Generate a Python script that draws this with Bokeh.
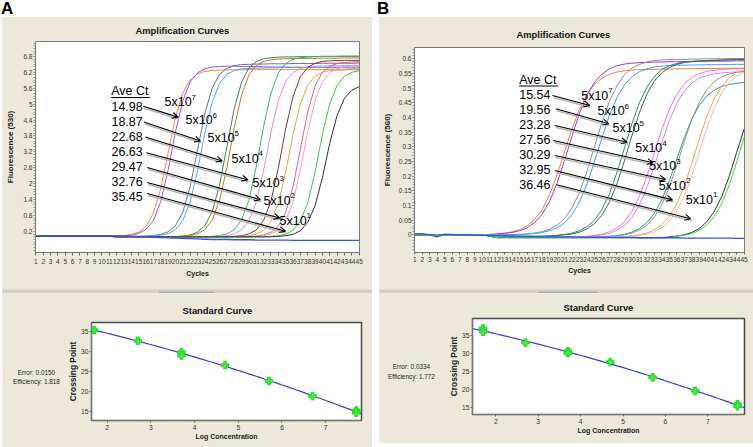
import numpy as np
from bokeh.plotting import figure
from bokeh.models import Range1d, FixedTicker, Arrow, OpenHead, ColumnDataSource, Spacer, Div
from bokeh.layouts import row, column
from bokeh.embed import file_html
from bokeh.resources import INLINE
from bokeh.core.properties import value

# ------------------------------------------------------------------ data
cycles = list(range(1, 46))

# Panel A amplification curves (fluorescence 530), two replicates per dilution
a_7x1 = [0.02, 0.02, 0.02, 0.02, 0.02, 0.02, 0.02, 0.02, 0.02, 0.02, 0.02,
         0.03, 0.05, 0.09, 0.18, 0.40, 0.90, 1.82, 3.16, 4.50, 5.42, 5.92, 6.14, 6.23, 6.27,
         6.28, 6.29, 6.29, 6.29, 6.30, 6.30, 6.30, 6.30, 6.30, 6.30,
         6.30, 6.30, 6.30, 6.30, 6.30, 6.30, 6.30, 6.30, 6.30, 6.30]
a_7x2 = [0.02, 0.02, 0.02, 0.02, 0.02, 0.02, 0.02, 0.02, 0.02, 0.02, 0.02, 0.02,
         0.04, 0.06, 0.13, 0.28, 0.62, 1.33, 2.51, 3.95, 5.13, 5.84, 6.18, 6.33, 6.40, 6.42,
         6.43, 6.43, 6.42, 6.42, 6.41, 6.41, 6.40, 6.40, 6.40, 6.39,
         6.39, 6.38, 6.38, 6.38, 6.37, 6.37, 6.37, 6.36, 6.36]
a_6x1 = [0.02, 0.02, 0.02, 0.02, 0.02, 0.02, 0.02, 0.02, 0.02, 0.02, 0.02, 0.02, 0.02, 0.02, 0.02,
         0.03, 0.05, 0.09, 0.19, 0.42, 0.93, 1.89, 3.27, 4.65, 5.61, 6.12, 6.35, 6.45, 6.49,
         6.50, 6.51, 6.51, 6.52, 6.52, 6.52, 6.53, 6.53, 6.53, 6.53, 6.54, 6.54, 6.54, 6.54, 6.54, 6.55]
a_6x2 = [0.02, 0.02, 0.02, 0.02, 0.02, 0.02, 0.02, 0.02, 0.02, 0.02, 0.02, 0.02, 0.02, 0.02, 0.02, 0.02,
         0.04, 0.06, 0.12, 0.27, 0.61, 1.31, 2.48, 3.91, 5.07, 5.78, 6.12, 6.27, 6.33,
         6.35, 6.36, 6.36, 6.37, 6.37, 6.38, 6.38, 6.38, 6.39, 6.39, 6.39, 6.40, 6.40, 6.40, 6.40, 6.40]
a_5x1 = [0.02, 0.02, 0.02, 0.02, 0.02, 0.02, 0.02, 0.02, 0.02, 0.02, 0.02,
         0.0, 0.0, 0.0, 0.0, 0.0, 0.0, 0.0, 0.0,
         0.01, 0.03, 0.07, 0.17, 0.42, 0.95, 1.95, 3.39, 4.83, 5.83, 6.37, 6.60, 6.71, 6.75,
         6.77, 6.78, 6.78, 6.79, 6.79, 6.79, 6.80, 6.80, 6.80, 6.80, 6.80, 6.80]
a_5x2 = [0.02, 0.02, 0.02, 0.02, 0.02, 0.02, 0.02, 0.02, 0.02, 0.02, 0.02,
         0.0, 0.0, 0.0, 0.0, 0.0, 0.0, 0.0, 0.0, 0.0,
         0.02, 0.05, 0.11, 0.27, 0.63, 1.37, 2.61, 4.11, 5.35, 6.10, 6.45, 6.61, 6.67, 6.70,
         6.71, 6.72, 6.72, 6.72, 6.73, 6.73, 6.73, 6.73, 6.74, 6.74, 6.74]
a_4x1 = [0.02, 0.02, 0.02, 0.02, 0.02, 0.02, 0.02, 0.02, 0.02, 0.02, 0.02,
         0.0, 0.0, 0.0, 0.0, 0.0, 0.0, 0.0, 0.0, 0.0, 0.0, 0.0, 0.0, 0.0,
         0.02, 0.05, 0.11, 0.27, 0.64, 1.38, 2.64, 4.16, 5.41, 6.17, 6.53, 6.69, 6.75, 6.78,
         6.79, 6.80, 6.80, 6.80, 6.81, 6.81, 6.81]
a_4x2 = [0.02, 0.02, 0.02, 0.02, 0.02, 0.02, 0.02, 0.02, 0.02, 0.02, 0.02,
         0.0, 0.0, 0.0, 0.0, 0.0, 0.0, 0.0, 0.0, 0.0, 0.0, 0.0, 0.0, 0.0, 0.0,
         0.02, 0.04, 0.11, 0.26, 0.60, 1.31, 2.50, 3.95, 5.13, 5.85, 6.19, 6.34, 6.41, 6.43,
         6.44, 6.45, 6.45, 6.45, 6.46, 6.46]
a_3x1 = [0.02, 0.02, 0.02, 0.02, 0.02, 0.02, 0.02, 0.02, 0.02, 0.02, 0.02,
         0.0, 0.0, 0.0, 0.0, 0.0, 0.0, 0.0, 0.0, 0.0, 0.0, 0.0, 0.0, 0.0, 0.0, 0.0, 0.0,
         0.02, 0.04, 0.11, 0.26, 0.62, 1.35, 2.58, 4.07, 5.29, 6.03, 6.38, 6.54, 6.61, 6.63,
         6.64, 6.65, 6.65, 6.65]
a_3x2 = [0.02, 0.02, 0.02, 0.02, 0.02, 0.02, 0.02, 0.02, 0.02, 0.02, 0.02,
         0.0, 0.0, 0.0, 0.0, 0.0, 0.0, 0.0, 0.0, 0.0, 0.0, 0.0, 0.0, 0.0, 0.0, 0.0, 0.0, 0.0,
         0.02, 0.04, 0.10, 0.25, 0.59, 1.28, 2.44, 3.86, 5.01, 5.71, 6.05, 6.20, 6.26, 6.28,
         6.29, 6.30, 6.30]
a_2x1 = [0.02, 0.02, 0.02, 0.02, 0.02, 0.02, 0.02, 0.02, 0.02, 0.02, 0.02,
         0.0, 0.0, 0.0, 0.0, 0.0, 0.0, 0.0, 0.0, 0.0, 0.0, 0.0, 0.0, 0.0, 0.0, 0.0, 0.0, 0.0, 0.0,
         0.01, 0.03, 0.07, 0.17, 0.40, 0.92, 1.89, 3.30, 4.71, 5.68, 6.20, 6.43, 6.53, 6.57, 6.59, 6.60]
a_2x2 = [0.02, 0.02, 0.02, 0.02, 0.02, 0.02, 0.02, 0.02, 0.02, 0.02, 0.02,
         0.0, 0.0, 0.0, 0.0, 0.0, 0.0, 0.0, 0.0, 0.0, 0.0, 0.0, 0.0, 0.0, 0.0, 0.0, 0.0, 0.0, 0.0, 0.0,
         0.02, 0.04, 0.11, 0.26, 0.60, 1.31, 2.50, 3.95, 5.13, 5.85, 6.19, 6.34, 6.41, 6.43, 6.45]
a_1x1 = [0.02, 0.02, 0.02, 0.02, 0.02, 0.02, 0.02, 0.02, 0.02, 0.02, 0.02,
         0.0, 0.0, 0.0, 0.0, 0.0, 0.0, 0.0, 0.0, 0.0, 0.0, 0.0, 0.0, 0.0, 0.0, 0.0, 0.0, 0.0, 0.0, 0.0,
         0.0, 0.0,
         0.02, 0.04, 0.10, 0.25, 0.59, 1.28, 2.44, 3.86, 5.01, 5.71, 6.05, 6.20, 6.26]
a_1x2 = [0.02, 0.02, 0.02, 0.02, 0.02, 0.02, 0.02, 0.02, 0.02, 0.02, 0.02,
         0.0, 0.0, 0.0, 0.0, 0.0, 0.0, 0.0, 0.0, 0.0, 0.0, 0.0, 0.0, 0.0, 0.0, 0.0, 0.0, 0.0, 0.0, 0.0,
         0.0, 0.0, 0.0,
         0.02, 0.04, 0.09, 0.23, 0.54, 1.17, 2.23, 3.52, 4.58, 5.22, 5.52, 5.66]
a_ntc = [0.04, 0.04, 0.04, 0.04, 0.04, 0.04, 0.04, 0.04, 0.04, 0.04, 0.04, 0.04,
         0.03, 0.02, 0.01, 0.0, -0.02, -0.03, -0.04, -0.05, -0.06, -0.07, -0.08, -0.09, -0.10,
         -0.10, -0.10, -0.11, -0.11, -0.11, -0.12, -0.12, -0.12, -0.12, -0.12,
         -0.13, -0.13, -0.13, -0.13, -0.13, -0.13, -0.13, -0.13, -0.13, -0.13]

# Panel B amplification curves (fluorescence 560)
b_7x1 = [0.0, 0.0, 0.0, 0.0, 0.0, 0.0, 0.0, 0.0, 0.0, 0.0,
         0.002, 0.003, 0.006, 0.010, 0.018, 0.031, 0.052, 0.086, 0.137, 0.204,
         0.283, 0.361, 0.428, 0.479, 0.513, 0.534, 0.547, 0.555, 0.559, 0.562,
         0.563, 0.564, 0.564, 0.565, 0.565, 0.566, 0.566, 0.566, 0.567, 0.567,
         0.567, 0.568, 0.568, 0.568, 0.568]
b_7x2 = [0.0, 0.0, 0.0, 0.0, 0.0, 0.0, 0.0, 0.0, 0.0, 0.0, 0.0,
         0.003, 0.005, 0.008, 0.014, 0.024, 0.042, 0.070, 0.114, 0.176, 0.253,
         0.337, 0.414, 0.476, 0.520, 0.548, 0.566, 0.576, 0.582, 0.585,
         0.587, 0.588, 0.589, 0.589, 0.590, 0.590, 0.591, 0.591, 0.591, 0.592,
         0.592, 0.592, 0.592, 0.593, 0.593]
b_6x1 = [0.0, 0.0, 0.0, 0.0, 0.0, 0.0, 0.0, 0.0, 0.0, 0.0, 0.0, 0.0, 0.0, 0.0,
         0.002, 0.003, 0.006, 0.011, 0.019, 0.033, 0.055, 0.092, 0.145, 0.217,
         0.300, 0.383, 0.455, 0.508, 0.545, 0.568, 0.581, 0.589, 0.594, 0.596,
         0.597, 0.598, 0.598, 0.599, 0.599, 0.600, 0.600, 0.600, 0.601, 0.601, 0.601]
b_6x2 = [0.0, 0.0, 0.0, 0.0, 0.0, 0.0, 0.0, 0.0, 0.0, 0.0, 0.0, 0.0, 0.0, 0.0, 0.0,
         0.003, 0.004, 0.008, 0.014, 0.024, 0.041, 0.069, 0.112, 0.173, 0.249,
         0.331, 0.407, 0.468, 0.511, 0.539, 0.556, 0.566, 0.572, 0.575,
         0.577, 0.578, 0.578, 0.579, 0.579, 0.580, 0.580, 0.580, 0.580, 0.581, 0.581]
b_5x1 = [0.0, 0.0, 0.0, 0.0, 0.0, 0.0, 0.0, 0.0, 0.0, 0.0, -0.003,
         -0.005, -0.005, -0.005, -0.005, -0.005, -0.005, -0.005,
         -0.003, -0.002, 0.001, 0.006, 0.014, 0.028, 0.050, 0.087, 0.140, 0.212,
         0.295, 0.378, 0.450, 0.503, 0.540, 0.563, 0.576, 0.584, 0.589, 0.591,
         0.593, 0.594, 0.595, 0.596, 0.597, 0.598, 0.598]
b_5x2 = [0.0, 0.0, 0.0, 0.0, 0.0, 0.0, 0.0, 0.0, 0.0, 0.0, -0.003,
         -0.005, -0.005, -0.005, -0.005, -0.005, -0.005, -0.005, -0.005,
         -0.002, 0.000, 0.003, 0.009, 0.020, 0.038, 0.067, 0.111, 0.174, 0.252,
         0.338, 0.416, 0.479, 0.524, 0.552, 0.570, 0.581, 0.587, 0.590,
         0.592, 0.593, 0.594, 0.595, 0.596, 0.597, 0.597]
b_4x1 = [0.0, 0.0, 0.0, 0.0, 0.0, 0.0, 0.0, 0.0, 0.0, 0.0, -0.004,
         -0.008, -0.008, -0.008, -0.008, -0.008, -0.008, -0.008, -0.008, -0.008, -0.008, -0.008,
         -0.006, -0.005, -0.002, 0.002, 0.010, 0.023, 0.045, 0.080, 0.131, 0.200,
         0.280, 0.359, 0.428, 0.479, 0.514, 0.536, 0.549, 0.557, 0.561, 0.564,
         0.565, 0.566, 0.567]
b_4x2 = [0.0, 0.0, 0.0, 0.0, 0.0, 0.0, 0.0, 0.0, 0.0, 0.0, -0.004,
         -0.008, -0.008, -0.008, -0.008, -0.008, -0.008, -0.008, -0.008, -0.008, -0.008, -0.008, -0.008,
         -0.006, -0.004, 0.000, 0.005, 0.015, 0.032, 0.059, 0.101, 0.160, 0.234,
         0.315, 0.389, 0.448, 0.490, 0.517, 0.534, 0.543, 0.549, 0.552, 0.554,
         0.555, 0.556]
b_3x1 = [0.0, 0.0, 0.0, 0.0, 0.0, 0.0, 0.0, 0.0, 0.0, 0.0, -0.004,
         -0.008, -0.008, -0.008, -0.008, -0.008, -0.008, -0.008, -0.008, -0.008, -0.008, -0.008,
         -0.008, -0.008, -0.008,
         -0.006, -0.005, -0.003, 0.002, 0.009, 0.021, 0.041, 0.073, 0.120, 0.183,
         0.257, 0.331, 0.394, 0.441, 0.473, 0.493, 0.506, 0.512, 0.517, 0.519]
b_3x2 = [0.0, 0.0, 0.0, 0.0, 0.0, 0.0, 0.0, 0.0, 0.0, 0.0, -0.004,
         -0.008, -0.008, -0.008, -0.008, -0.008, -0.008, -0.008, -0.008, -0.008, -0.008, -0.008,
         -0.008, -0.008, -0.008, -0.008,
         -0.005, -0.004, 0.000, 0.006, 0.016, 0.032, 0.060, 0.102, 0.162, 0.237,
         0.317, 0.392, 0.452, 0.494, 0.522, 0.539, 0.548, 0.554, 0.557]
b_2x1 = [0.0, 0.0, 0.0, 0.0, 0.0, 0.0, 0.0, 0.0, 0.0, 0.0, -0.004,
         -0.008, -0.008, -0.008, -0.008, -0.008, -0.008, -0.008, -0.008, -0.008, -0.008, -0.008,
         -0.008, -0.008, -0.008, -0.008, -0.008, -0.008,
         -0.005, -0.003, 0.000, 0.006, 0.016, 0.034, 0.062, 0.105, 0.166, 0.243,
         0.326, 0.403, 0.464, 0.507, 0.535, 0.553, 0.563]
b_2x2 = [0.0, 0.0, 0.0, 0.0, 0.0, 0.0, 0.0, 0.0, 0.0, 0.0, -0.004,
         -0.008, -0.008, -0.008, -0.008, -0.008, -0.008, -0.008, -0.008, -0.008, -0.008, -0.008,
         -0.008, -0.008, -0.008, -0.008, -0.008, -0.008, -0.008,
         -0.005, -0.002, 0.002, 0.010, 0.023, 0.046, 0.081, 0.132, 0.201, 0.282,
         0.363, 0.432, 0.483, 0.519, 0.541, 0.554]
b_1x1 = [0.0, 0.0, 0.0, 0.0, 0.0, 0.0, 0.0, 0.0, 0.0, 0.0, -0.005,
         -0.010, -0.010, -0.010, -0.010, -0.010, -0.010, -0.010, -0.010, -0.010, -0.010,
         -0.010, -0.010, -0.010, -0.010, -0.010, -0.010, -0.010, -0.010, -0.010, -0.010,
         -0.010, -0.010, -0.010,
         -0.007, -0.004, 0.000, 0.008, 0.021, 0.044, 0.079, 0.130, 0.199, 0.280, 0.361]
b_1x2 = [0.0, 0.0, 0.0, 0.0, 0.0, 0.0, 0.0, 0.0, 0.0, 0.0, -0.005,
         -0.010, -0.010, -0.010, -0.010, -0.010, -0.010, -0.010, -0.010, -0.010, -0.010,
         -0.010, -0.010, -0.010, -0.010, -0.010, -0.010, -0.010, -0.010, -0.010, -0.010,
         -0.010, -0.010, -0.010, -0.010,
         -0.005, -0.002, 0.004, 0.015, 0.033, 0.062, 0.106, 0.169, 0.247, 0.333]
b_ntc = [0.003, 0.004, 0.0, -0.007, 0.002, 0.001, 0.0, 0.0, -0.001, -0.002,
         -0.003, -0.003, -0.004, -0.004, -0.005, -0.005, -0.006, -0.006, -0.006, -0.007,
         -0.007, -0.007, -0.008, -0.008, -0.008, -0.008, -0.009, -0.009, -0.009, -0.009,
         -0.010, -0.010, -0.010, -0.010, -0.010, -0.010, -0.011, -0.011, -0.011, -0.011,
         -0.011, -0.011, -0.011, -0.012, -0.012]

# axis ticks / labels
a_yticks = [0.2, 0.8, 1.4, 2.0, 2.6, 3.2, 3.8, 4.4, 5.0, 5.6, 6.2, 6.8]
a_ytick_labels = ["0.2", "0.8", "1.4", "2", "2.6", "3.2", "3.8", "4.4", "5", "5.6", "6.2", "6.8"]
b_yticks = [0.0, 0.05, 0.1, 0.15, 0.2, 0.25, 0.3, 0.35, 0.4, 0.45, 0.5, 0.55, 0.6]
b_ytick_labels = ["0", "0.05", "0.1", "0.15", "0.2", "0.25", "0.3", "0.35", "0.4", "0.45",
                  "0.5", "0.55", "0.6"]
std_xticks = [2, 3, 4, 5, 6, 7]
std_yticks = [15, 20, 25, 30, 35]

# annotation texts
panel_letters = ["A", "B"]
a_ct_labels = ["14.98", "18.87", "22.68", "26.63", "29.47", "32.76", "35.45"]
b_ct_labels = ["15.54", "19.56", "23.28", "27.56", "30.29", "32.95", "36.46"]
dil_exponents = ["7", "6", "5", "4", "3", "2", "1"]

# standard curves
log_conc = [1.7, 2.7, 3.7, 4.7, 5.7, 6.7, 7.7]
a_ct_avg = [35.45, 32.76, 29.47, 26.63, 22.68, 18.87, 14.98]
b_ct_avg = [36.46, 32.95, 30.29, 27.56, 23.28, 19.56, 15.54]
a_rep_x = [1.7, 2.7, 3.7, 3.7, 4.7, 5.7, 6.7, 7.7, 7.7]
a_rep_y = [35.45, 32.76, 29.9, 29.05, 26.63, 22.68, 18.87, 15.25, 14.7]
b_rep_x = [1.7, 1.7, 2.7, 3.7, 3.7, 4.7, 5.7, 6.7, 7.7, 7.7]
b_rep_y = [36.9, 36.0, 32.95, 30.55, 30.05, 27.56, 23.28, 19.56, 15.85, 15.25]
a_stats = ["Error: 0.0150", "Efficiency: 1.818"]
b_stats = ["Error: 0.0334", "Efficiency: 1.772"]

for _n, _v in list(globals().items()):
    if (_n[:2] in ("a_", "b_") and _n[2].isdigit()) or _n in ("a_ntc", "b_ntc"):
        assert len(_v) == 45, (_n, len(_v))

# ------------------------------------------------------------------ layout / annotation positions
a_arrow_x0 = [15.61, 15.69, 15.92, 16.02, 16.15, 16.15, 16.15]
a_arrow_y0 = [4.92, 4.33, 3.76, 3.17, 2.61, 2.05, 1.63]
a_arrow_x1 = [20.37, 23.41, 26.36, 29.85, 31.57, 34.20, 34.98]
a_arrow_y1 = [4.51, 3.61, 2.86, 2.15, 1.40, 0.71, 0.21]
a_num_y = [4.92, 4.36, 3.77, 3.21, 2.65, 2.08, 1.52]
a_lab_x = [18.51, 21.37, 24.36, 27.63, 30.49, 31.98, 34.16]
a_lab_y = [5.07, 4.40, 3.72, 2.94, 2.01, 1.36, 0.61]

b_arrow_x0 = [19.39, 19.83, 19.70, 19.49, 19.70, 19.70, 19.93]
b_arrow_y0 = [0.4748, 0.4295, 0.3726, 0.3214, 0.2703, 0.2191, 0.1704]
b_arrow_x1 = [24.38, 26.92, 29.37, 32.85, 34.49, 35.43, 37.87]
b_arrow_y1 = [0.4408, 0.3784, 0.3156, 0.2454, 0.1885, 0.1192, 0.0545]
b_num_y = [0.4772, 0.4261, 0.3760, 0.3238, 0.2727, 0.2215, 0.1714]
b_lab_x = [23.23, 25.41, 27.41, 30.44, 32.31, 33.60, 37.21]
b_lab_y = [0.4748, 0.4213, 0.3634, 0.2952, 0.2338, 0.1680, 0.1203]

BEIGE = "#ece9da"
BAND = "#d4d0c8"
FONT = "Liberation Sans"

a_colors = ["#f28c28", "#9b4dff", "#6e6e8e", "#4da3ff", "#2e8b57", "#c8742c", "#3cb360",
            "#d98be8", "#8b3030", "#f0a03c", "#e8607a", "#f29ad2", "#2ecc40", "#303030"]
b_colors = ["#f28020", "#9933ff", "#8a8aa8", "#3d9bff", "#2e8b57", "#3f5f6f", "#ff6ad5",
            "#c38ef0", "#2f9a88", "#8a9a8a", "#f0a050", "#f5b9a4", "#303030", "#33dd33"]
NTC_COLOR = "#3050ff"


def no_align(p):
    try:
        p.frame_align = False
    except Exception:
        pass
    return p


def style_axis(ax, tick_size, label_size, tick_out, lab_standoff, axlab_standoff):
    ax.major_label_text_font = FONT
    ax.major_label_text_font_size = tick_size
    ax.major_label_text_color = "#333333"
    ax.axis_label_text_font = FONT
    ax.axis_label_text_font_size = label_size
    ax.axis_label_text_font_style = "bold"
    ax.axis_label_text_color = "#222222"
    ax.major_tick_out = tick_out
    ax.major_tick_in = 0
    ax.minor_tick_in = 0
    ax.minor_tick_out = 2
    ax.major_label_standoff = int(lab_standoff)
    ax.axis_label_standoff = int(axlab_standoff)
    ax.axis_line_color = "#777777"
    ax.major_tick_line_color = "#666666"
    ax.minor_tick_line_color = "#999999"


def chart_fig(w, h, xr, yr, lb, rb, tb, bb, title, t_off, t_standoff, t_size):
    p = figure(width=w, height=h, x_range=xr, y_range=yr, output_backend="svg",
               toolbar_location=None, min_border_left=lb, min_border_right=rb,
               min_border_top=tb, min_border_bottom=bb, title=title,
               border_fill_color=BEIGE, background_fill_color="white")
    no_align(p)
    p.xgrid.visible = False
    p.ygrid.visible = False
    p.title.align = "left"
    p.title.offset = t_off
    p.title.standoff = t_standoff
    p.title.text_font = FONT
    p.title.text_font_size = t_size
    p.title.text_font_style = "bold"
    p.title.text_color = "#111111"
    return p


def pix_fig(w, h, bg):
    f = figure(width=w, height=h, x_range=Range1d(0, w), y_range=Range1d(h, 0),
               x_axis_location=None, y_axis_location=None, min_border=0,
               title_location=None, toolbar_location=None, output_backend="svg",
               background_fill_color=bg, border_fill_color=bg, outline_line_color=None)
    no_align(f)
    f.grid.visible = False
    return f


def amp_chart(w, yr, lb, rb, tb, t_off, t_standoff, curves, colors, ntc, yticks, ylabels,
              minor, ylab, num_x, num_y, ct_labels, ax0, ay0, ax1, ay1, lab_x, lab_y,
              avex, avey, ave_ux1, ave_uy, shx, shy, supdx, supdy, xlab_standoff, ylab_standoff,
              ytick_out, xtick_out, xlab_off):
    p = chart_fig(w, 268, Range1d(0.95, 45.05), yr, lb, rb, tb, 33,
                  "Amplification Curves", t_off, t_standoff, "9.4px")
    p.outline_line_color = "#7a7a7a"
    p.xaxis.ticker = FixedTicker(ticks=cycles)
    p.yaxis.ticker = FixedTicker(ticks=yticks, minor_ticks=minor)
    p.yaxis.major_label_overrides = dict(zip(yticks, ylabels))
    p.xaxis.axis_label = "Cycles"
    p.yaxis.axis_label = ylab
    style_axis(p.xaxis[0], "6.5px", "7px", xtick_out, xlab_off, xlab_standoff)
    style_axis(p.yaxis[0], "6.5px", "8px", ytick_out, 1, ylab_standoff)
    for vals, col in zip(curves, colors):
        p.line(cycles, vals, line_color=col, line_width=1)
    p.line(cycles, ntc, line_color=NTC_COLOR, line_width=1.3)

    # arrow shadows, arrows, labels
    p.segment(x0=list(np.array(ax0) + shx), y0=list(np.array(ay0) + shy),
              x1=list(np.array(ax1) + shx), y1=list(np.array(ay1) + shy),
              line_color="#b8b8b8", line_width=1.6)
    src = ColumnDataSource(dict(x0=ax0, y0=ay0, x1=ax1, y1=ay1))
    p.add_layout(Arrow(end=OpenHead(size=6, line_width=1.1, line_color="black"),
                       source=src, x_start="x0", y_start="y0", x_end="x1", y_end="y1",
                       line_width=1.1, line_color="black"))
    tf = dict(text_font=value(FONT), text_color="black", text_baseline="middle",
              text_align="left")
    p.text(x=[avex], y=[avey], text=["Ave Ct"], text_font_size="12.5px", **tf)
    p.segment(x0=[avex], y0=[ave_uy], x1=[ave_ux1], y1=[ave_uy], line_color="black",
              line_width=1)
    p.text(x=[num_x] * len(num_y), y=num_y, text=ct_labels, text_font_size="12.5px", **tf)
    p.text(x=lab_x, y=lab_y, text=["5x10"] * len(lab_x), text_font_size="12.5px", **tf)
    p.text(x=list(np.array(lab_x) + supdx), y=list(np.array(lab_y) + supdy),
           text=dil_exponents, text_font_size="8px", **tf)
    return p


a_curves = [a_7x1, a_7x2, a_6x1, a_6x2, a_5x1, a_5x2, a_4x1, a_4x2,
            a_3x1, a_3x2, a_2x1, a_2x2, a_1x1, a_1x2]
b_curves = [b_7x1, b_7x2, b_6x1, b_6x2, b_5x1, b_5x2, b_4x1, b_4x2,
            b_3x1, b_3x2, b_2x1, b_2x2, b_1x1, b_1x2]

a_minor = [round(v, 2) for v in np.arange(-0.5, 7.35, 0.1)]
b_minor = [round(v, 3) for v in np.arange(-0.05, 0.64, 0.01)]

pa = amp_chart(370, Range1d(-0.59, 7.36), 33, 13, 23, 100, 11, a_curves, a_colors, a_ntc,
               a_yticks, a_ytick_labels, a_minor, "Fluorescence (530)", 11.29, a_num_y,
               a_ct_labels, a_arrow_x0, a_arrow_y0, a_arrow_x1, a_arrow_y1, a_lab_x, a_lab_y,
               11.25, 5.485, 16.51, 5.25, 0.136, -0.075, 3.67, 0.19, 3, 5, 2, 3, 3)
pb = amp_chart(374, Range1d(-0.0603, 0.6385), 35, 9, 30, 102, 16, b_curves, b_colors, b_ntc,
               b_yticks, b_ytick_labels, b_minor, "Fluorescence (560)", 14.94, b_num_y,
               b_ct_labels, b_arrow_x0, b_arrow_y0, b_arrow_x1, b_arrow_y1, b_lab_x, b_lab_y,
               14.94, 0.5284, 20.15, 0.5072, 0.134, -0.0068, 3.62, 0.017, 2, 4, 2, 2, 2)


def std_chart(w, h, xr, yr, lb, rb, tb, bb, t_off, t_standoff, avg, rx, ry):
    p = chart_fig(w, h, xr, yr, lb, rb, tb, bb, "Standard Curve", t_off, t_standoff, "9.4px")
    p.outline_line_color = "#4a4a4a"
    p.outline_line_width = 1.5
    p.xaxis.ticker = FixedTicker(ticks=std_xticks)
    p.yaxis.ticker = FixedTicker(ticks=std_yticks)
    p.xaxis.axis_label = "Log Concentration"
    p.yaxis.axis_label = "Crossing Point"
    style_axis(p.xaxis[0], "6.7px", "7px", 2, 2, 0)
    style_axis(p.yaxis[0], "6.7px", "8.4px", 2, 1, 0)
    coef = np.polyfit(log_conc, avg, 2)
    xs = np.linspace(xr.start, xr.end, 80)
    p.line(xs, np.polyval(coef, xs), line_color="#3b3bdc", line_width=1.2)
    p.scatter(rx, ry, marker="plus", size=7.5, fill_color="#3cf03c", line_color="#27d027")
    return p


sa = std_chart(308, 154, Range1d(1.64, 7.82), Range1d(12.73, 37.37), 27, 11, 29, 27, 91, 14,
               a_ct_avg, a_rep_x, a_rep_y)
sb = std_chart(309, 150, Range1d(1.45, 7.865), Range1d(12.96, 39.66), 28, 9, 25, 29, 91, 12,
               b_ct_avg, b_rep_x, b_rep_y)


def stats_fig(w, h, cx, ys, lines):
    f = pix_fig(w, h, BEIGE)
    f.text(x=[cx] * len(lines), y=ys, text=lines, text_font=value(FONT),
           text_font_size="6.4px", text_color="#222222", text_align="center",
           text_baseline="middle")
    return f


ea = stats_fig(62, 154, 34, [79, 88], a_stats)
eb = stats_fig(65, 150, 32, [73, 82.7], b_stats)


def band_fig(w, bx0, bx1):
    b = pix_fig(w, 8, BAND)
    b.quad(left=[bx0], right=[bx1], top=[2.7], bottom=[8], fill_color="#f4f4f6",
           line_color="#9a9aa8", line_width=1)
    b.segment(x0=[bx0 + 6], x1=[bx1 - 6], y0=[5.4], y1=[5.4], line_color="#4050b0",
              line_dash="1 1", line_width=1)
    b.scatter(x=[bx0 + 3.5, bx1 - 3.5], y=[5.3, 5.3], marker="inverted_triangle", size=4,
              fill_color="#223388", line_color="#223388")
    return b


band_a = band_fig(370, 157, 211)
band_b = band_fig(374, 160, 217)

# panel letters as an HTML header strip (no SVG clipping)
_span = ('<span style="position:absolute;left:{x}px;top:0px;font-family:\'Liberation Sans\';'
         'font-weight:bold;font-size:17px;line-height:17px;color:#000">{t}</span>')
hd = Div(text='<div style="position:relative;width:753px;height:17px;overflow:visible">'
              + _span.format(x=1, t=panel_letters[0]) + _span.format(x=377, t=panel_letters[1])
              + '</div>',
         width=753, height=17, margin=0, styles={"background-color": "white"})

col_a = column(pa, band_a, row(ea, sa), styles={"background-color": BEIGE})
col_b = column(pb, band_b, row(eb, sb), Spacer(width=374, height=4,
                                               styles={"background-color": "white"}),
               styles={"background-color": BEIGE})
root = column(hd, row(Spacer(width=2, height=430), col_a, Spacer(width=7, height=430), col_b))

open("out.html", "w").write(file_html(root, INLINE))
